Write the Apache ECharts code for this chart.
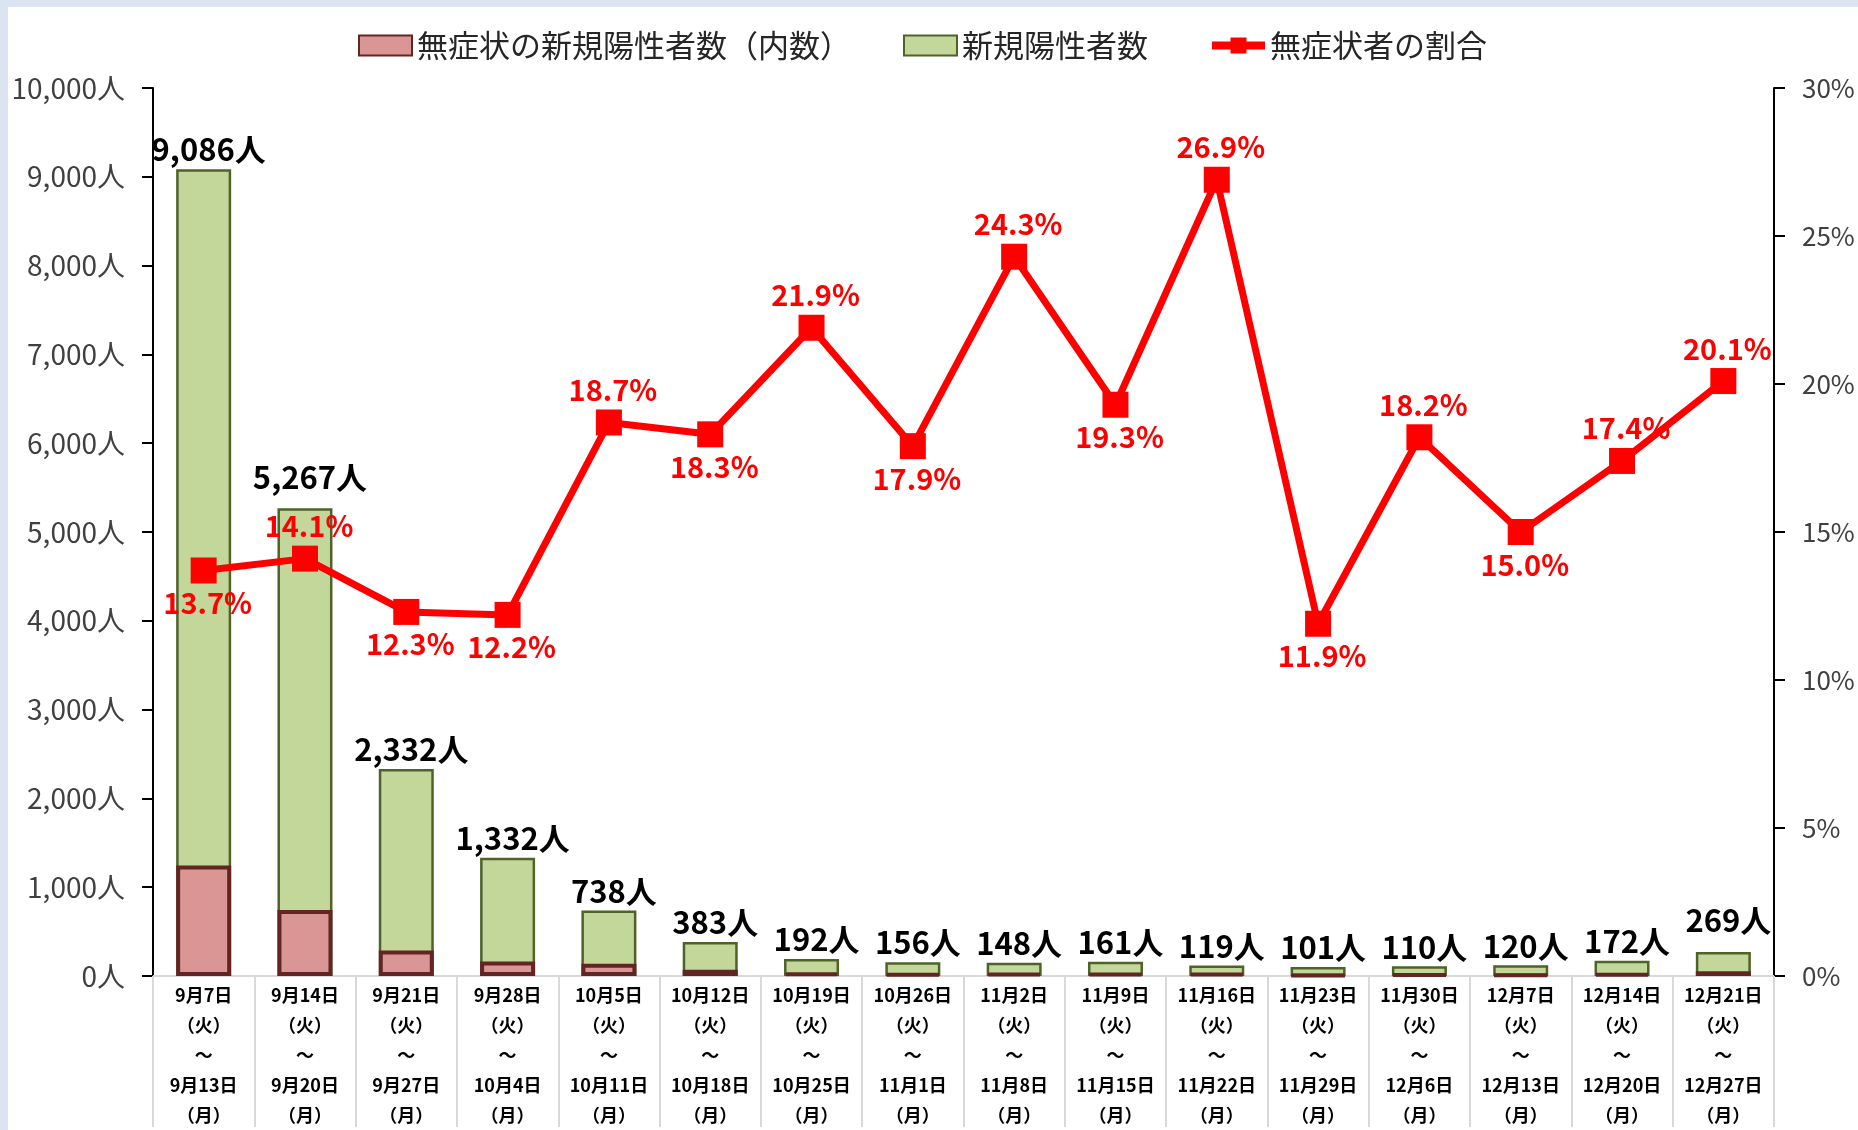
<!DOCTYPE html>
<html>
<head>
<meta charset="utf-8">
<script src="https://cdn.jsdelivr.net/npm/echarts@6/dist/echarts.min.js"></script>
<style>
  html,body{margin:0;padding:0;background:#fff;}
  #main{width:1858px;height:1130px;}
</style>
</head>
<body>
<div id="main"></div>
<script>
// 週の開始日・終了日
const startDays = ['9月7日','9月14日','9月21日','9月28日','10月5日','10月12日','10月19日','10月26日','11月2日','11月9日','11月16日','11月23日','11月30日','12月7日','12月14日','12月21日']
const endDays = ['9月13日','9月20日','9月27日','10月4日','10月11日','10月18日','10月25日','11月1日','11月8日','11月15日','11月22日','11月29日','12月6日','12月13日','12月20日','12月27日']
// 新規陽性者数
const newCases = [9086,5267,2332,1332,738,383,192,156,148,161,119,101,110,120,172,269]
// 無症状の新規陽性者数（内数）
const asymCases = [1245,743,287,163,138,70,42,28,36,31,32,12,20,18,30,54]
// 無症状者の割合(%)
const asymRate = [13.7,14.1,12.3,12.2,18.7,18.3,21.9,17.9,24.3,19.3,26.9,11.9,18.2,15.0,17.4,20.1]
// ラベルの上下
const rateLabelSide = ['bottom','top','bottom','bottom','top','bottom','top','bottom','top','bottom','top','bottom','top','bottom','top','top']

const FONT = '"Noto Sans CJK JP","Noto Sans",sans-serif'
const NAME_ASYM = '無症状の新規陽性者数（内数）'
const NAME_NEW = '新規陽性者数'
const NAME_RATE = '無症状者の割合'

var categories = []
for (var i = 0; i < startDays.length; i++) {
  categories.push(startDays[i] + '\n（火）\n～\n' + endDays[i] + '\n（月）')
}

var rateData = asymRate.map(function (v, i) {
  return { value: v, label: { position: rateLabelSide[i] } }
})
var caseData = newCases.map(function (v, i) {
  if (i == 1 || i == newCases.length - 1) return { value: v, label: { distance: 16 } }
  return v
})

function legendAt(name, left, icon) {
  var item = { name: name }
  if (icon) item.icon = icon
  return {
    left: left,
    top: 25,
    itemWidth: 53,
    itemHeight: 20,
    data: [item],
    lineStyle: { width: 8 },
    textStyle: { fontSize: 31, color: '#262626', fontFamily: FONT }
  }
}

const chart = echarts.init(document.getElementById('main'))

var option = {
  backgroundColor: '#ffffff',
  animation: false,
  textStyle: { fontFamily: FONT },
  graphic: [
    { type: 'rect', shape: { x: 0, y: 0, width: 1858, height: 7 }, style: { fill: '#dbe5f1' } },
    { type: 'rect', shape: { x: 0, y: 0, width: 8, height: 1130 }, style: { fill: '#dbe5f1' } }
  ],
  legend: [
    legendAt(NAME_ASYM, 353, 'rect'),
    legendAt(NAME_NEW, 898, 'rect'),
    legendAt(NAME_RATE, 1203)
  ],
  grid: {
    left: 153,
    right: 84,
    top: 88,
    bottom: 151,
    containLabel: false
  },
  xAxis: {
    type: 'category',
    data: categories,
    boundaryGap: true,
    axisLine: { lineStyle: { color: '#d9d9d9', width: 2 } },
    axisTick: { show: true, length: 151, lineStyle: { color: '#d9d9d9', width: 2 } },
    axisLabel: {
      interval: 0,
      margin: 4,
      fontSize: 18,
      fontWeight: 'bold',
      lineHeight: 30,
      color: '#000',
      fontFamily: FONT
    }
  },
  yAxis: [{
    type: 'value',
    min: 0,
    max: 10000,
    interval: 1000,
    splitLine: { show: false },
    axisLine: { show: true, lineStyle: { color: '#000', width: 2 } },
    axisTick: { show: true, length: 11, lineStyle: { color: '#000', width: 2 } },
    axisLabel: {
      margin: 28,
      fontSize: 28,
      color: '#404040',
      fontFamily: FONT,
      formatter: function (v) { return v.toLocaleString('en-US') + '人' }
    }
  }, {
    type: 'value',
    position: 'right',
    min: 0,
    max: 30,
    interval: 5,
    splitLine: { show: false },
    axisLine: { show: true, lineStyle: { color: '#000', width: 2 } },
    axisTick: { show: true, length: 11, lineStyle: { color: '#000', width: 2 } },
    axisLabel: {
      margin: 28,
      fontSize: 26,
      color: '#404040',
      fontFamily: FONT,
      formatter: '{value}%'
    }
  }],
  series: [{
    name: NAME_NEW,
    type: 'bar',
    barWidth: 55,
    barGap: '-100%',
    data: caseData,
    itemStyle: { color: '#c4d79b', borderColor: '#4f6228', borderWidth: 2.5 },
    label: {
      show: true,
      position: 'top',
      distance: 4,
      offset: [5, 0],
      fontSize: 31,
      fontWeight: 'bold',
      color: '#000',
      fontFamily: FONT,
      formatter: function (p) { return p.value.toLocaleString('en-US') + '人' }
    },
    z: 2
  }, {
    name: NAME_ASYM,
    type: 'bar',
    barWidth: 55,
    barGap: '-100%',
    data: asymCases,
    itemStyle: { color: '#d99694', borderColor: '#632523', borderWidth: 4 },
    z: 3
  }, {
    name: NAME_RATE,
    type: 'line',
    yAxisIndex: 1,
    data: rateData,
    symbol: 'rect',
    symbolSize: 26,
    lineStyle: { color: '#ff0000', width: 7 },
    itemStyle: { color: '#ff0000' },
    label: {
      show: true,
      distance: 5,
      offset: [4, 0],
      fontSize: 29,
      fontWeight: 'bold',
      color: '#ff0000',
      fontFamily: FONT,
      formatter: function (p) { return p.value.toFixed(1) + '%' }
    },
    z: 5
  }]
}

chart.setOption(option)
</script>
</body>
</html>
